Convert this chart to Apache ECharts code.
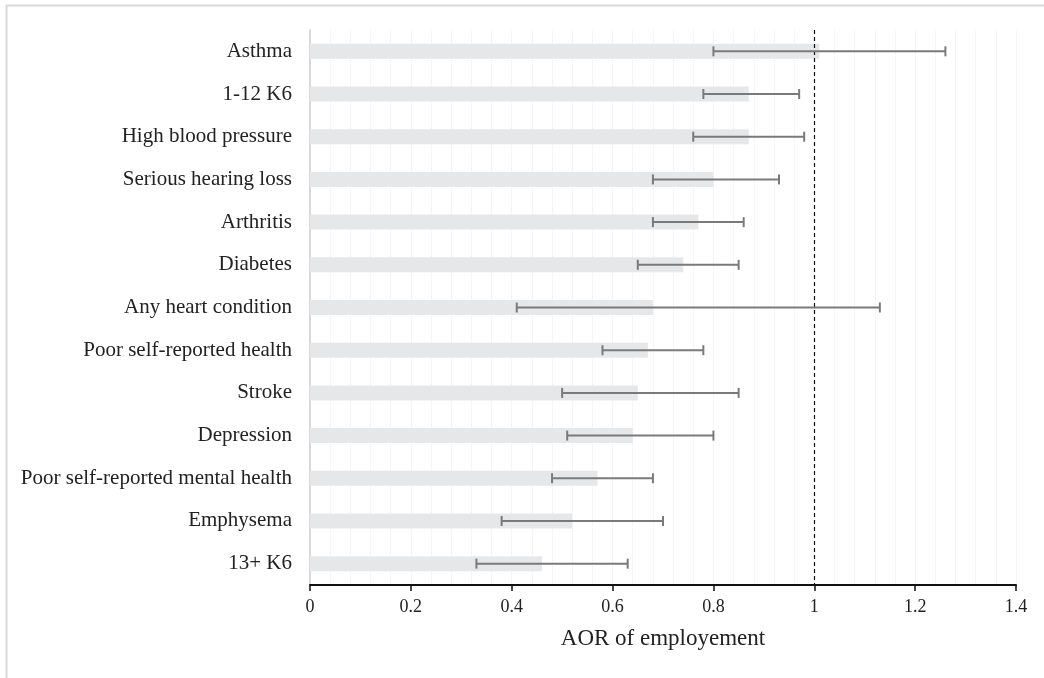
<!DOCTYPE html>
<html>
<head>
<meta charset="utf-8">
<script src="https://cdn.jsdelivr.net/npm/echarts@6/dist/echarts.min.js"></script>
<style>
html,body{margin:0;padding:0;background:#fff;}
#chart{width:1044px;height:678px;}
</style>
</head>
<body>
<div id="chart"></div>
<script>
const categories = ["Asthma","1-12 K6","High blood pressure","Serious hearing loss","Arthritis","Diabetes","Any heart condition","Poor self-reported health","Stroke","Depression","Poor self-reported mental health","Emphysema","13+ K6"];
const aorValues = [1.01,0.87,0.87,0.80,0.77,0.74,0.68,0.67,0.65,0.64,0.57,0.52,0.46];
const ciLower = [0.80,0.78,0.76,0.68,0.68,0.65,0.41,0.58,0.50,0.51,0.48,0.38,0.33];
const ciUpper = [1.26,0.97,0.98,0.93,0.86,0.85,1.13,0.78,0.85,0.80,0.68,0.70,0.63];
const xTicks = [0,0.2,0.4,0.6,0.8,1,1.2,1.4];
const referenceValue = 1;

const chart = echarts.init(document.getElementById('chart'), null, {renderer:'canvas'});
const font = '"Liberation Serif","Times New Roman",serif';
const errData = categories.map((c,i)=>[i, ciLower[i], ciUpper[i]]);

chart.setOption({
  animation:false,
  backgroundColor:'#fff',
  graphic:[{type:'rect',left:4,top:3,shape:{width:1100,height:800},style:{fill:'none',stroke:'#d9d9d9',lineWidth:2},silent:true}],
  grid:{left:310,right:28,top:30,bottom:93,containLabel:false},
  xAxis:{
    type:'value',min:0,max:1.4,interval:0.2,
    name:'AOR of employement',nameLocation:'middle',nameGap:42,
    nameTextStyle:{fontFamily:font,fontSize:23,color:'#222'},
    axisLine:{show:true,lineStyle:{color:'#111',width:2}},
    axisTick:{show:true,length:6,lineStyle:{color:'#111',width:1.5}},
    axisLabel:{fontFamily:font,fontSize:18,color:'#222',margin:13,
      formatter:v=>{const t=xTicks.find(x=>Math.abs(x-v)<1e-9);return t===undefined?'':String(t);}},
    splitLine:{show:true,lineStyle:{color:'#ececec',type:'dotted',width:1}},
    minorTick:{show:false,splitNumber:5},
    minorSplitLine:{show:true,lineStyle:{color:'#ececec',type:'dotted',width:1}}
  },
  yAxis:{
    type:'category',data:categories,inverse:true,
    axisLine:{show:true,lineStyle:{color:'#d9d9d9',width:2}},
    axisTick:{show:false},
    axisLabel:{fontFamily:font,fontSize:21,color:'#222',margin:18},
    splitLine:{show:false}
  },
  series:[
    {
      type:'bar',data:aorValues,barWidth:15,
      itemStyle:{color:'#e6e7e9'},
      silent:true,
      markLine:{
        silent:true,symbol:'none',label:{show:false},
        lineStyle:{color:'#111',type:[4,3],width:1.2},
        data:[{xAxis:referenceValue}]
      }
    },
    {
      type:'custom',data:errData,
      encode:{y:0,x:[1,2]},
      renderItem:function(params,api){
        const yi=api.value(0);
        const lo=api.coord([api.value(1),yi]);
        const hi=api.coord([api.value(2),yi]);
        const h=5;
        const st={stroke:'#7a7a7a',lineWidth:2};
        return {type:'group',children:[
          {type:'line',shape:{x1:lo[0],y1:lo[1],x2:hi[0],y2:hi[1]},style:st},
          {type:'line',shape:{x1:lo[0],y1:lo[1]-h,x2:lo[0],y2:lo[1]+h},style:st},
          {type:'line',shape:{x1:hi[0],y1:hi[1]-h,x2:hi[0],y2:hi[1]+h},style:st}
        ]};
      },
      z:5
    }
  ]
});
</script>
</body>
</html>
